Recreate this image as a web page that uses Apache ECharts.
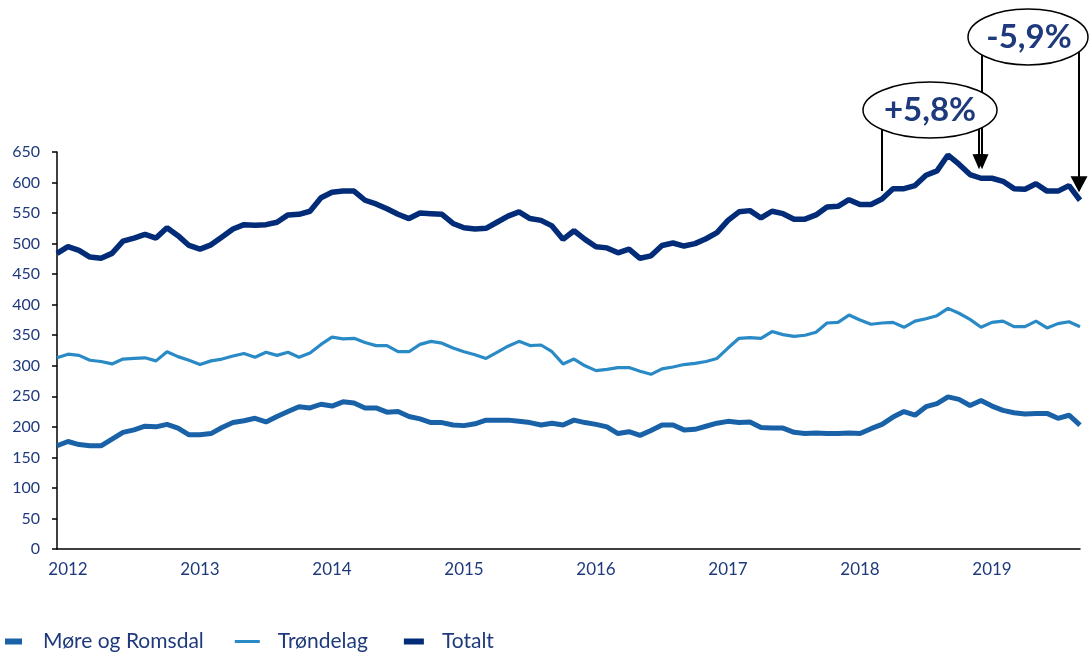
<!DOCTYPE html>
<html>
<head>
<meta charset="utf-8">
<script src="https://cdn.jsdelivr.net/npm/echarts@6/dist/echarts.min.js"></script>
<style>
html,body{margin:0;padding:0;background:#fff;}
#chart{width:1089px;height:653px;}
</style>
</head>
<body>
<div id="chart"></div>
<script>
// Monthly categories (Dec 2011 – Sep 2019)
const months = [
  '2011-12',
  '2012-01','2012-02','2012-03','2012-04','2012-05','2012-06','2012-07','2012-08','2012-09','2012-10','2012-11','2012-12',
  '2013-01','2013-02','2013-03','2013-04','2013-05','2013-06','2013-07','2013-08','2013-09','2013-10','2013-11','2013-12',
  '2014-01','2014-02','2014-03','2014-04','2014-05','2014-06','2014-07','2014-08','2014-09','2014-10','2014-11','2014-12',
  '2015-01','2015-02','2015-03','2015-04','2015-05','2015-06','2015-07','2015-08','2015-09','2015-10','2015-11','2015-12',
  '2016-01','2016-02','2016-03','2016-04','2016-05','2016-06','2016-07','2016-08','2016-09','2016-10','2016-11','2016-12',
  '2017-01','2017-02','2017-03','2017-04','2017-05','2017-06','2017-07','2017-08','2017-09','2017-10','2017-11','2017-12',
  '2018-01','2018-02','2018-03','2018-04','2018-05','2018-06','2018-07','2018-08','2018-09','2018-10','2018-11','2018-12',
  '2019-01','2019-02','2019-03','2019-04','2019-05','2019-06','2019-07','2019-08','2019-09'
];

const moreOgRomsdal = [
  169,176,171,169,169,180,191,195,201,200,204,198,187,187,189,199,207,210,214,208,217,225,233,231,
  237,234,241,239,231,231,224,225,217,213,207,207,203,202,205,211,211,211,209,207,203,206,203,211,
  207,204,200,189,192,186,194,203,203,195,196,201,206,209,207,208,199,198,198,191,189,190,189,189,
  190,189,197,204,216,225,219,233,238,249,245,235,243,234,227,223,221,222,222,214,219,203
];
const trondelag = [
  313,319,317,309,307,303,311,312,313,308,323,315,309,302,308,311,316,320,314,322,317,322,314,321,
  335,347,344,345,338,333,333,323,323,335,340,337,329,323,318,312,322,332,340,333,334,323,303,311,
  300,292,294,297,297,291,286,295,298,302,304,307,312,329,345,346,345,356,351,348,350,355,370,371,
  383,375,368,370,371,363,373,377,382,394,386,376,363,371,373,364,364,373,362,369,372,364
];
const totalt = [
  484,495,489,478,476,484,504,509,515,509,526,513,497,491,498,511,524,531,530,531,535,547,548,553,
  575,584,586,586,571,565,557,548,541,550,549,548,533,526,524,525,535,545,552,541,538,529,507,521,
  507,495,493,485,491,476,480,497,501,496,500,508,518,538,552,554,542,553,549,540,540,547,560,561,
  572,564,564,573,590,590,595,612,619,645,630,613,607,607,602,590,589,598,586,586,595,571
];

const seriesNames = ['Møre og Romsdal', 'Trøndelag', 'Totalt'];
const yTicks = {min: 0, max: 650, interval: 50};

// Annotation anchors (indices in months) and labels
const annUpFrom = 75, annUpTo = 84, annDownTo = 93;
const annUpLabel = '+5,8%';
const annDownLabel = '-5,9%';

const txtColor = '#1f3a7c';
const font = 'Lato, "Open Sans", sans-serif';
const colMore = '#1a62a8', colTrond = '#2a8ac6', colTot = '#022c78';

const chart = echarts.init(document.getElementById('chart'), null, {renderer: 'canvas'});

const iconThick = (a, w) => 'path://M0,0M38,7M' + a + ',0.5L' + (a + w) + ',0.5L' + (a + w) + ',6.5L' + a + ',6.5Z';
const iconThin = (a, w) => 'path://M0,0M38,7M' + a + ',2L' + (a + w) + ',2L' + (a + w) + ',5L' + a + ',5Z';

chart.setOption({
  animation: false,
  backgroundColor: '#ffffff',
  grid: {left: 57, right: 9, top: 152, bottom: 104, containLabel: false},
  legend: {
    left: 0, top: 631, padding: 0,
    itemWidth: 38, itemHeight: 7, itemGap: 31,
    textStyle: {color: txtColor, fontSize: 21, fontFamily: font},
    data: [
      {name: seriesNames[0], icon: iconThick(5, 17)},
      {name: seriesNames[1], icon: iconThin(0, 25)},
      {name: seriesNames[2], icon: iconThick(5, 20)}
    ]
  },
  xAxis: {
    type: 'category',
    data: months,
    boundaryGap: false,
    axisLine: {show: true, lineStyle: {color: '#000', width: 1.5}},
    axisTick: {show: false},
    splitLine: {show: false},
    axisLabel: {
      interval: (idx) => idx % 12 === 1,
      formatter: (v) => v.slice(0, 4),
      color: txtColor, fontSize: 17, fontFamily: font, margin: 12
    }
  },
  yAxis: {
    type: 'value',
    min: yTicks.min, max: yTicks.max, interval: yTicks.interval,
    axisLine: {show: true, lineStyle: {color: '#000', width: 1.5}},
    axisTick: {show: true, length: 5, lineStyle: {color: '#000', width: 1.5}},
    splitLine: {show: false},
    axisLabel: {color: txtColor, fontSize: 16, fontFamily: font, margin: 17}
  },
  series: [
    {name: seriesNames[0], type: 'line', data: moreOgRomsdal, showSymbol: false, symbol: 'none',
     color: colMore, itemStyle: {color: colMore}, lineStyle: {color: colMore, width: 5}, z: 3},
    {name: seriesNames[1], type: 'line', data: trondelag, showSymbol: false, symbol: 'none',
     color: colTrond, itemStyle: {color: colTrond}, lineStyle: {color: colTrond, width: 3.2}, z: 3},
    {name: seriesNames[2], type: 'line', data: totalt, showSymbol: false, symbol: 'none',
     color: colTot, itemStyle: {color: colTot}, lineStyle: {color: colTot, width: 5.5}, z: 4}
  ]
});

function px(i, v) { return chart.convertToPixel({gridIndex: 0}, [i, v]); }

const pA = px(annUpFrom, totalt[annUpFrom]);
const pB = px(annUpTo, totalt[annUpTo]);
const pC = px(annDownTo, totalt[annDownTo]);

const e1 = {cx: 930, cy: 110, rx: 67, ry: 28};
const e2 = {cx: 1028, cy: 37, rx: 60, ry: 28};

const tipB = pB[1] - 9;
const tipC = pC[1] - 8;
const endA = pA[1] - 8;

function vline(x, y1, y2) {
  return {type: 'line', z: 50, shape: {x1: x, y1: y1, x2: x, y2: y2}, style: {stroke: '#000', lineWidth: 2}};
}
function head(x, tip, w, h) {
  return {type: 'polygon', z: 50, shape: {points: [[x - w / 2, tip - h], [x + w / 2, tip - h], [x, tip]]}, style: {fill: '#000'}};
}

chart.setOption({
  graphic: [
    vline(pA[0], e1.cy, endA),
    vline(pB[0] - 2, e1.cy, tipB - 10),
    vline(pB[0] + 1, e2.cy, tipB - 10),
    vline(pC[0] - 1, e2.cy, tipC - 10),
    head(pB[0] - 2, tipB, 13, 15),
    head(pB[0] + 1, tipB, 13, 15),
    head(pC[0] - 1, tipC, 17, 16),
    {type: 'ellipse', z: 60, shape: e1, style: {fill: '#fff', stroke: '#000', lineWidth: 1.5}},
    {type: 'ellipse', z: 60, shape: e2, style: {fill: '#fff', stroke: '#000', lineWidth: 1.5}},
    {type: 'text', z: 61, x: e1.cx, y: e1.cy, style: {text: annUpLabel, fill: txtColor, font: 'bold 33px ' + font, align: 'center', verticalAlign: 'middle'}},
    {type: 'text', z: 61, x: e2.cx + 1, y: e2.cy, style: {text: annDownLabel, fill: txtColor, font: 'bold 33px ' + font, align: 'center', verticalAlign: 'middle'}}
  ]
});
</script>
</body>
</html>
